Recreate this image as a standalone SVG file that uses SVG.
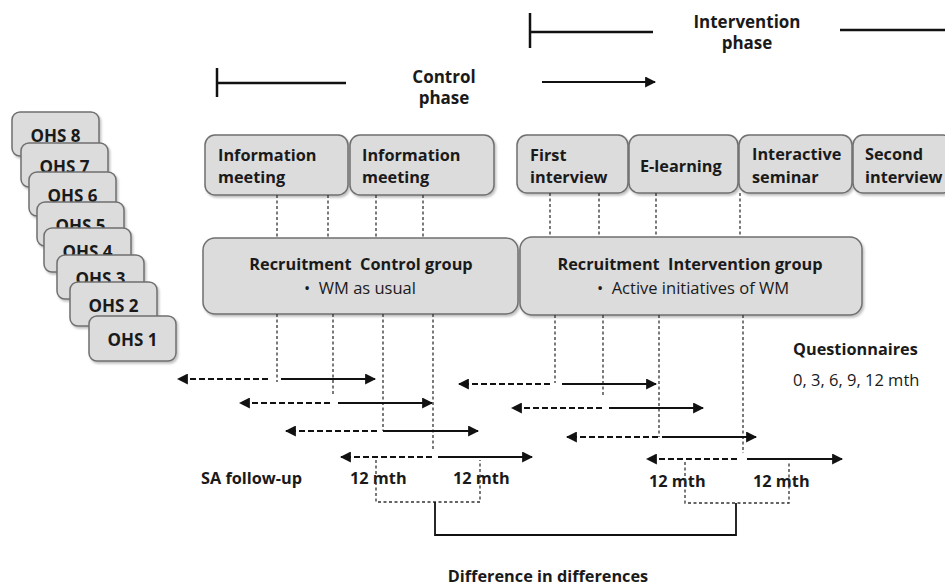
<svg xmlns="http://www.w3.org/2000/svg" width="945" height="587" viewBox="0 0 945 587">
<defs>
<marker id="ah" viewBox="0 0 10 10" refX="9" refY="5" markerWidth="5" markerHeight="5" orient="auto-start-reverse" markerUnits="strokeWidth">
<path d="M0,0 L10,5 L0,10 Z" fill="#111"/>
</marker>
<filter id="sh" x="-5%" y="-5%" width="112%" height="120%">
<feDropShadow dx="1.5" dy="2" stdDeviation="1.2" flood-color="#000" flood-opacity="0.25"/>
</filter>
</defs>
<style>
text{font-family:"Open Sans","Liberation Sans",sans-serif;fill:#1a1a1a;}
.b{font-weight:bold;font-size:16.3px;}
.r{font-size:16.5px;}
.ohs{font-weight:bold;font-size:17px;text-anchor:middle;}
.box{fill:#dcdcdc;stroke:#6f6f6f;stroke-width:1.5;filter:url(#sh);}
.ph{stroke:#111;stroke-width:2.5;fill:none;}
.sol{stroke:#111;stroke-width:2.2;fill:none;marker-end:url(#ah);}
.das{stroke:#111;stroke-width:2.2;fill:none;stroke-dasharray:6,3;marker-end:url(#ah);}
.dot{stroke:#333;stroke-width:1.3;fill:none;stroke-dasharray:3,2.5;}
.br{stroke:#111;stroke-width:1.8;fill:none;}
</style>
<rect width="945" height="587" fill="#fff"/>

<!-- OHS stack -->
<g id="ohs8"><rect class="box" x="12" y="112" width="87" height="44" rx="8"/><text class="ohs" x="55.5" y="142">OHS 8</text></g>
<g id="ohs7"><rect class="box" x="21" y="143" width="87" height="44" rx="8"/><text class="ohs" x="64.5" y="173">OHS 7</text></g>
<g id="ohs6"><rect class="box" x="29" y="172" width="87" height="44" rx="8"/><text class="ohs" x="72.5" y="202">OHS 6</text></g>
<g id="ohs5"><rect class="box" x="37" y="202" width="87" height="44" rx="8"/><text class="ohs" x="80.5" y="232">OHS 5</text></g>
<g id="ohs4"><rect class="box" x="44" y="228" width="87" height="44" rx="8"/><text class="ohs" x="87.5" y="258">OHS 4</text></g>
<g id="ohs3"><rect class="box" x="57" y="255" width="87" height="44" rx="8"/><text class="ohs" x="100.5" y="285">OHS 3</text></g>
<g id="ohs2"><rect class="box" x="70" y="282" width="87" height="44" rx="8"/><text class="ohs" x="113.5" y="312">OHS 2</text></g>
<g id="ohs1"><rect class="box" x="89" y="316" width="87" height="45" rx="8"/><text class="ohs" x="132.5" y="346">OHS 1</text></g>

<!-- Phase labels -->
<g id="control-phase">
<line class="ph" x1="217" y1="68" x2="217" y2="97"/>
<line class="ph" x1="217" y1="83" x2="346" y2="83"/>
<text class="b" x="444" y="83" text-anchor="middle" style="font-size:17px">Control</text>
<text class="b" x="444" y="104" text-anchor="middle" style="font-size:17px">phase</text>
</g>
<g id="intervention-phase">
<line class="ph" x1="530" y1="13" x2="530" y2="48"/>
<line class="ph" x1="530" y1="32" x2="653" y2="32"/>
<line class="ph" x1="840" y1="30" x2="945" y2="30"/>
<text class="b" x="747" y="28" text-anchor="middle" style="font-size:17px">Intervention</text>
<text class="b" x="747" y="49" text-anchor="middle" style="font-size:17px">phase</text>
</g>

<!-- Top boxes -->
<g id="info1"><rect class="box" x="205" y="135" width="143" height="60" rx="10"/><text class="b" x="218" y="161">Information</text><text class="b" x="218" y="183">meeting</text></g>
<g id="info2"><rect class="box" x="350" y="135" width="144" height="60" rx="10"/><text class="b" x="362" y="161">Information</text><text class="b" x="362" y="183">meeting</text></g>
<g id="first-interview"><rect class="box" x="517" y="135" width="111" height="58" rx="10"/><text class="b" x="530" y="161">First</text><text class="b" x="530" y="183">interview</text></g>
<g id="elearning"><rect class="box" x="629" y="135" width="109" height="58" rx="10"/><text class="b" x="640" y="172">E-learning</text></g>
<g id="seminar"><rect class="box" x="739" y="135" width="113" height="58" rx="10"/><text class="b" x="752" y="160">Interactive</text><text class="b" x="752" y="183">seminar</text></g>
<g id="second-interview"><rect class="box" x="853" y="135" width="100" height="58" rx="10"/><text class="b" x="865" y="160">Second</text><text class="b" x="865" y="183">interview</text></g>

<!-- Recruitment boxes -->
<g id="rec-control"><rect class="box" x="203" y="238" width="315" height="76" rx="12"/>
<text class="b" x="361" y="270" text-anchor="middle" style="white-space:pre">Recruitment  Control group</text>
<text class="r" x="360" y="294" text-anchor="middle" style="white-space:pre">•  WM as usual</text></g>
<g id="rec-intervention"><rect class="box" x="520" y="237" width="342" height="78" rx="12"/>
<text class="b" x="690" y="270" text-anchor="middle" style="white-space:pre">Recruitment  Intervention group</text>
<text class="r" x="693" y="294" text-anchor="middle" style="white-space:pre">•  Active initiatives of WM</text></g>

<!-- Labels -->
<g id="questionnaires"><text class="b" x="793" y="355">Questionnaires</text><text class="r" x="793" y="386">0, 3, 6, 9, 12 mth</text></g>
<g id="sa-followup"><text class="b" x="201" y="484">SA follow-up</text></g>
<g id="mth-labels">
<text class="b" x="350" y="484">12 mth</text>
<text class="b" x="453" y="484">12 mth</text>
<text class="b" x="649" y="487">12 mth</text>
<text class="b" x="753" y="487">12 mth</text>
</g>
<g id="did"><text class="b" x="548" y="582" text-anchor="middle">Difference in differences</text></g>

<!-- Connectors -->
<g id="connectors">
<line class="dot" x1="277" y1="195" x2="277" y2="238"/>
<line class="dot" x1="328" y1="195" x2="328" y2="238"/>
<line class="dot" x1="376" y1="195" x2="376" y2="238"/>
<line class="dot" x1="423" y1="195" x2="423" y2="238"/>
<line class="dot" x1="550" y1="193" x2="550" y2="237"/>
<line class="dot" x1="599" y1="193" x2="599" y2="237"/>
<line class="dot" x1="656" y1="193" x2="656" y2="237"/>
<line class="dot" x1="740" y1="193" x2="740" y2="237"/>
<line class="dot" x1="277" y1="314" x2="277" y2="382"/>
<line class="dot" x1="333" y1="314" x2="333" y2="396"/>
<line class="dot" x1="383" y1="314" x2="383" y2="431"/>
<line class="dot" x1="433" y1="314" x2="433" y2="449"/>
<line class="dot" x1="555" y1="315" x2="555" y2="383"/>
<line class="dot" x1="603" y1="315" x2="603" y2="396"/>
<line class="dot" x1="659" y1="315" x2="659" y2="437"/>
<line class="dot" x1="743" y1="315" x2="743" y2="453"/>
<line class="sol" x1="542" y1="82" x2="655" y2="82"/>
<line class="das" x1="268" y1="379" x2="178" y2="379"/>
<line class="sol" x1="281" y1="379" x2="375" y2="379"/>
<line class="das" x1="330" y1="403" x2="240" y2="403"/>
<line class="sol" x1="338" y1="403" x2="432" y2="403"/>
<line class="das" x1="377" y1="431" x2="286" y2="431"/>
<line class="sol" x1="383" y1="431" x2="478" y2="431"/>
<line class="das" x1="432" y1="457" x2="341" y2="457"/>
<line class="sol" x1="438" y1="457" x2="532" y2="457"/>
<line class="das" x1="550" y1="384" x2="459" y2="384"/>
<line class="sol" x1="562" y1="384" x2="656" y2="384"/>
<line class="das" x1="602" y1="408" x2="512" y2="408"/>
<line class="sol" x1="609" y1="408" x2="703" y2="408"/>
<line class="das" x1="658" y1="437" x2="567" y2="437"/>
<line class="sol" x1="662" y1="437" x2="756" y2="437"/>
<line class="das" x1="737" y1="459" x2="647" y2="459"/>
<line class="sol" x1="747" y1="459" x2="842" y2="459"/>
<path class="dot" d="M376,460 V502 H480 V460"/>
<path class="dot" d="M685,462 V503 H789 V462"/>
<path class="br" d="M435,502 V535 H736 V503"/>
</g>
</svg>
